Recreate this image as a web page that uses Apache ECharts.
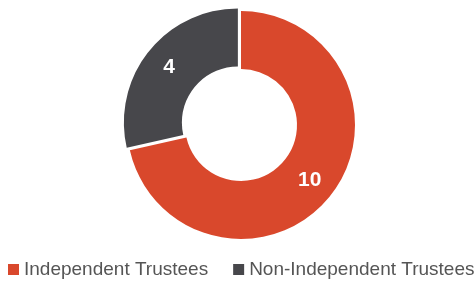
<!DOCTYPE html>
<html>
<head>
<meta charset="utf-8">
<style>
  html, body { margin: 0; padding: 0; background: #ffffff; }
  #chart { width: 476px; height: 281px; }
</style>
<script src="https://cdn.jsdelivr.net/npm/echarts@6/dist/echarts.min.js"></script>
</head>
<body>
<div id="chart"></div>
<script>
// board composition
const categories = ['Independent Trustees', 'Non-Independent Trustees']
const values = [10, 4]
const colors = ['#d9482c', '#47474b']

const chart = echarts.init(document.getElementById('chart'))

chart.setOption({
  animation: false,
  backgroundColor: '#ffffff',
  legend: {
    left: 8,
    top: 260,
    width: 540,
    padding: 0,
    icon: 'rect',
    itemWidth: 11,
    itemHeight: 11,
    itemGap: 25,
    textStyle: {
      fontFamily: 'Liberation Sans, Arial, sans-serif',
      fontSize: 19,
      color: '#555555'
    },
    data: categories
  },
  series: [{
    type: 'pie',
    center: [241, 125],
    radius: [56, 114],
    startAngle: 90,
    selectedMode: 'single',
    selectedOffset: 4,
    label: {
      show: true,
      position: 'inside',
      formatter: '{c}',
      color: '#ffffff',
      fontFamily: 'Liberation Sans, Arial, sans-serif',
      fontWeight: 'bold',
      fontSize: 21
    },
    labelLine: { show: false },
    emphasis: { disabled: true },
    data: categories.map((name, i) => ({
      name: name,
      value: values[i],
      selected: i === 1,
      itemStyle: { color: colors[i] }
    }))
  }]
})
</script>
</body>
</html>
